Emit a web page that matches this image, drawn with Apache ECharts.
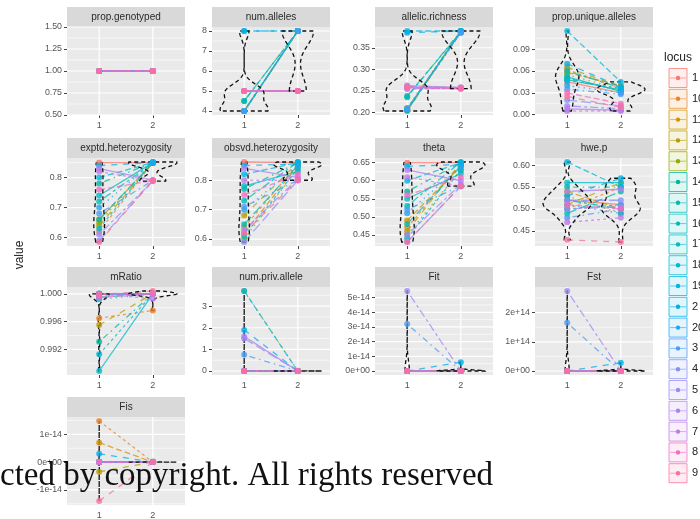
<!DOCTYPE html>
<html><head><meta charset="utf-8">
<script src="https://cdn.jsdelivr.net/npm/echarts@6/dist/echarts.min.js"></script>
<style>html,body{margin:0;padding:0;background:#fff;}#c{width:700px;height:519px;}</style>
</head><body><div id="c"></div>
<script>
// ---------------- data ----------------
const loci = ['1','10','11','12','13','14','15','16','17','18','19','2','20','3','4','5','6','7','8','9'];
const lociColors = ['#F8766D','#E8852A','#D39200','#B79F00','#93AA00','#00B6A0','#00B9B0','#00BABC','#00BAC8','#00B8D4','#00B5DE','#00AEE8','#1FA6F0','#4A9CF5','#8390FA','#9E88F8','#B07FF0','#BF79E8','#F26CC0','#FB6F9E'];
const groupLabels = ['1','2'];
const metrics = ['prop.genotyped','num.alleles','allelic.richness','prop.unique.alleles','exptd.heterozygosity','obsvd.heterozygosity','theta','hwe.p','mRatio','num.priv.allele','Fit','Fst','Fis'];

const propGenotyped1 = [1,1,1,1,1,1,1,1,1,1,1,1,1,1,1,1,1,1,1,1];
const propGenotyped2 = [1,1,1,1,1,1,1,1,1,1,1,1,1,1,1,1,1,1,1,1];
const numAlleles1 = [5,4,4,4,4,4.5,4.5,4,4,4,8,8,4,4,5,5,5,5,5,5];
const numAlleles2 = [5,8,8,8,8,8,8,8,8,8,8,8,8,8,5,5,5,5,5,5];
const allelicRichness1 = [0.258,0.205,0.207,0.203,0.21,0.235,0.238,0.204,0.206,0.209,0.389,0.385,0.206,0.208,0.26,0.256,0.262,0.254,0.257,0.259];
const allelicRichness2 = [0.256,0.385,0.389,0.387,0.388,0.389,0.386,0.389,0.388,0.387,0.389,0.389,0.385,0.386,0.257,0.255,0.258,0.256,0.255,0.257];
const propUniqueAlleles1 = [0.045,0.062,0.058,0.065,0.055,0.05,0.048,0.06,0.052,0.047,0.115,0.07,0.04,0.035,0.02,0.012,0.008,0.005,0.03,0.025];
const propUniqueAlleles2 = [0.03,0.036,0.04,0.038,0.035,0.033,0.034,0.037,0.032,0.036,0.045,0.038,0.03,0.028,0.012,0.008,0.006,0.005,0.015,0.01];
const exptdHet1 = [0.85,0.62,0.66,0.64,0.65,0.78,0.66,0.72,0.74,0.63,0.80,0.84,0.70,0.68,0.59,0.61,0.83,0.82,0.76,0.585];
const exptdHet2 = [0.85,0.85,0.848,0.85,0.852,0.85,0.85,0.849,0.85,0.851,0.85,0.85,0.85,0.79,0.79,0.788,0.792,0.79,0.79,0.79];
const obsvdHet1 = [0.862,0.64,0.62,0.68,0.60,0.77,0.65,0.73,0.78,0.61,0.82,0.85,0.70,0.71,0.59,0.63,0.84,0.80,0.75,0.62];
const obsvdHet2 = [0.86,0.855,0.85,0.86,0.84,0.86,0.85,0.862,0.83,0.84,0.86,0.855,0.85,0.80,0.80,0.805,0.81,0.80,0.82,0.80];
const theta1 = [0.65,0.47,0.49,0.46,0.45,0.57,0.48,0.53,0.55,0.44,0.60,0.64,0.51,0.52,0.43,0.45,0.63,0.61,0.56,0.43];
const theta2 = [0.65,0.645,0.64,0.65,0.63,0.65,0.64,0.652,0.62,0.63,0.65,0.645,0.64,0.585,0.585,0.59,0.60,0.585,0.61,0.585];
const hweP1 = [0.52,0.50,0.54,0.51,0.53,0.55,0.49,0.52,0.56,0.50,0.607,0.53,0.51,0.48,0.52,0.50,0.54,0.47,0.51,0.43];
const hweP2 = [0.51,0.55,0.50,0.56,0.49,0.55,0.54,0.50,0.56,0.51,0.55,0.57,0.49,0.50,0.52,0.505,0.545,0.48,0.50,0.425];
const mRatio1 = [1.0,0.9965,1.0,0.9955,1.0,0.9931,0.9995,1.0,0.9889,0.9913,1.0,1.0,0.9992,1.0,1.0,0.9998,1.0,1.0,0.9995,0.9999];
const mRatio2 = [1.0,0.9976,1.0,1.0,1.0,1.0,1.0,1.0,1.0,1.0,1.0,1.0,1.0,1.0,1.0,1.0,1.0,0.9993,1.0,1.0004];
const numPrivAllele1 = [0,0,0,0,3.7,0,0,0,0,0,3.7,1.9,0,0.75,1.5,0,1.6,0,0,0];
const numPrivAllele2 = [0,0,0,0,0,0,0,0,0,0,0,0,0.01,0,0,0,0,0,0,0];
const fit1 = [0,0,0,0,0,0,0,0,0,0,0,0,0,3.2e-14,0,5.45e-14,0,0,0,0];
const fit2 = [0,0,0,0,0,0,0,0,0,0,0,0.6e-14,0,0,0,0,0,0,0,0];
const fst1 = [0,0,0,0,0,0,0,0,0,0,0,0,0,1.65e14,0,2.74e14,0,0,0,0];
const fst2 = [0,0,0,0,0,0,0,0,0,0,0,0.28e14,0,0,0,0,0,0,0,0];
const fis1 = [0,1.48e-14,0.7e-14,-0.35e-14,0,0,0,0,0,0,0,0.3e-14,0,0,0,0,0,0,0,-1.4e-14];
const fis2 = [0,0,0,0,0,0,0,0,0,0,0,0,0.02e-14,0,0,0,0,0,0,0];

const ticksPropGenotyped = [0.5,0.75,1,1.25,1.5];  const labelsPropGenotyped = ['0.50','0.75','1.00','1.25','1.50'];
const ticksNumAlleles = [4,5,6,7,8];               const labelsNumAlleles = ['4','5','6','7','8'];
const ticksAllelicRichness = [0.2,0.25,0.3,0.35];  const labelsAllelicRichness = ['0.20','0.25','0.30','0.35'];
const ticksPropUnique = [0,0.03,0.06,0.09];        const labelsPropUnique = ['0.00','0.03','0.06','0.09'];
const ticksExptd = [0.6,0.7,0.8];                  const labelsExptd = ['0.6','0.7','0.8'];
const ticksObsvd = [0.6,0.7,0.8];                  const labelsObsvd = ['0.6','0.7','0.8'];
const ticksTheta = [0.45,0.5,0.55,0.6,0.65];       const labelsTheta = ['0.45','0.50','0.55','0.60','0.65'];
const ticksHwe = [0.45,0.5,0.55,0.6];              const labelsHwe = ['0.45','0.50','0.55','0.60'];
const ticksMRatio = [0.992,0.996,1.0];             const labelsMRatio = ['0.992','0.996','1.000'];
const ticksNumPriv = [0,1,2,3];                    const labelsNumPriv = ['0','1','2','3'];
const ticksFit = [0,1e-14,2e-14,3e-14,4e-14,5e-14]; const labelsFit = ['0e+00','1e-14','2e-14','3e-14','4e-14','5e-14'];
const ticksFst = [0,1e14,2e14];                    const labelsFst = ['0e+00','1e+14','2e+14'];
const ticksFis = [-1e-14,0,1e-14];                 const labelsFis = ['-1e-14','0e+00','1e-14'];

// ---------------- build ----------------
const panels = [
  [propGenotyped1, propGenotyped2, ticksPropGenotyped, labelsPropGenotyped],
  [numAlleles1, numAlleles2, ticksNumAlleles, labelsNumAlleles],
  [allelicRichness1, allelicRichness2, ticksAllelicRichness, labelsAllelicRichness],
  [propUniqueAlleles1, propUniqueAlleles2, ticksPropUnique, labelsPropUnique],
  [exptdHet1, exptdHet2, ticksExptd, labelsExptd],
  [obsvdHet1, obsvdHet2, ticksObsvd, labelsObsvd],
  [theta1, theta2, ticksTheta, labelsTheta],
  [hweP1, hweP2, ticksHwe, labelsHwe],
  [mRatio1, mRatio2, ticksMRatio, labelsMRatio],
  [numPrivAllele1, numPrivAllele2, ticksNumPriv, labelsNumPriv],
  [fit1, fit2, ticksFit, labelsFit],
  [fst1, fst2, ticksFst, labelsFst],
  [fis1, fis2, ticksFis, labelsFis]
].map((a, i) => ({name: metrics[i], g1: a[0], g2: a[1], ticks: a[2], labels: a[3]}));

const FONT = '"Liberation Sans", Arial, sans-serif';
const colLeft = [67, 212, 375, 535], rowTop = [27, 158, 287, 417];
const PW = 118, PH = 88, STRIP = 20;
const dashes = [[], [3,3], [6,3], [6,6], [1.5,4], [1.5,4,6,4], [10,4], [3,3,8,3]];

function q7(s, p) { const h = (s.length - 1) * p, l = Math.floor(h); return s[l] + (h - l) * (s[Math.min(l + 1, s.length - 1)] - s[l]); }
function bwNrd0(x) {
  const n = x.length, m = x.reduce((a, b) => a + b, 0) / n;
  const sd = Math.sqrt(x.reduce((a, b) => a + (b - m) * (b - m), 0) / (n - 1));
  const s = [...x].sort((a, b) => a - b);
  let lo = Math.min(sd, (q7(s, 0.75) - q7(s, 0.25)) / 1.34);
  if (!(lo > 0)) lo = sd > 0 ? sd : (Math.abs(x[0]) > 0 ? Math.abs(x[0]) : 1);
  return 0.9 * lo * Math.pow(n, -0.2);
}
function density(x, M) {
  const bw = bwNrd0(x), lo = Math.min(...x), hi = Math.max(...x), out = [];
  for (let i = 0; i < M; i++) {
    const y = lo + (hi - lo) * i / (M - 1);
    let d = 0;
    for (const xi of x) { const z = (y - xi) / bw; d += Math.exp(-0.5 * z * z); }
    out.push([y, d / (x.length * bw * Math.sqrt(2 * Math.PI))]);
  }
  return out;
}

const grid = [], xAxis = [], yAxis = [], series = [], graphics = [];
panels.forEach((p, i) => {
  const col = i % 4, row = Math.floor(i / 4);
  const left = colLeft[col], top = rowTop[row];
  const all = p.g1.concat(p.g2);
  let lo = Math.min(...all), hi = Math.max(...all);
  const constant = hi - lo === 0;
  if (constant) { lo -= 0.5; hi += 0.5; } else { const r = hi - lo; lo -= 0.05 * r; hi += 0.05 * r; }
  const tol = (hi - lo) * 1e-6;

  grid.push({left, top, width: PW, height: PH, show: true, backgroundColor: '#EAEAEA', borderWidth: 0, containLabel: false, outerBoundsMode: 'none'});
  xAxis.push({type: 'value', gridIndex: i, min: 0.4, max: 2.6,
    axisLine: {show: false}, splitLine: {show: false},
    axisTick: {show: true, customValues: [1, 2], length: 3, lineStyle: {color: '#444', width: 1}},
    axisLabel: {customValues: [1, 2], formatter: v => groupLabels[Math.round(v) - 1], fontSize: 9, color: '#555', margin: 6, fontFamily: FONT}});
  yAxis.push({type: 'value', gridIndex: i, min: lo, max: hi, scale: true,
    axisLine: {show: false}, splitLine: {show: false},
    axisTick: {show: true, customValues: p.ticks, length: 3, lineStyle: {color: '#444', width: 1}},
    axisLabel: {customValues: p.ticks, fontSize: 8.8, color: '#555', margin: 5, fontFamily: FONT,
      formatter: v => { const k = p.ticks.findIndex(t => Math.abs(t - v) <= tol); return k >= 0 ? p.labels[k] : ''; }}});

  // grid lines
  const gl = [];
  p.ticks.forEach(t => gl.push([t, 0]));
  const step = p.ticks[1] - p.ticks[0];
  for (let k = -1; k < p.ticks.length; k++) { const m = p.ticks[0] + (k + 0.5) * step; if (m > lo && m < hi) gl.push([m, 1]); }
  [1, 2].forEach(g => gl.push([g, 2]));
  series.push({type: 'custom', xAxisIndex: i, yAxisIndex: i, z: 1, silent: true, data: gl,
    renderItem: (params, api) => {
      const v = api.value(0), kind = api.value(1);
      const a = kind === 2 ? api.coord([v, lo]) : api.coord([0.4, v]);
      const b = kind === 2 ? api.coord([v, hi]) : api.coord([2.6, v]);
      return {type: 'line', shape: {x1: a[0], y1: a[1], x2: b[0], y2: b[1]}, style: {stroke: '#FFFFFF', lineWidth: kind === 1 ? 0.6 : 1.2}};
    }});

  // connecting lines per locus
  series.push({type: 'custom', xAxisIndex: i, yAxisIndex: i, z: 3, silent: true,
    data: loci.map((l, k) => [p.g1[k], p.g2[k], k]),
    renderItem: (params, api) => {
      const k = api.value(2);
      const a = api.coord([1, api.value(0)]), b = api.coord([2, api.value(1)]);
      return {type: 'line', shape: {x1: a[0], y1: a[1], x2: b[0], y2: b[1]},
        style: {stroke: lociColors[k], lineWidth: 1.3, opacity: 0.75, lineDash: dashes[k % dashes.length]}};
    }});

  // violins
  if (!constant) {
    const profs = [density(p.g1, 128), density(p.g2, 128)];
    const maxD = Math.max(...profs[0].map(d => d[1]), ...profs[1].map(d => d[1]));
    series.push({type: 'custom', xAxisIndex: i, yAxisIndex: i, z: 4, silent: true,
      data: [[1, 0], [2, 1]],
      renderItem: (params, api) => {
        const gx = api.value(0), prof = profs[api.value(1)];
        const pts = [];
        prof.forEach(d => pts.push(api.coord([gx - 0.45 * d[1] / maxD, d[0]])));
        for (let j = prof.length - 1; j >= 0; j--) pts.push(api.coord([gx + 0.45 * prof[j][1] / maxD, prof[j][0]]));
        return {type: 'polygon', shape: {points: pts}, style: {fill: 'none', stroke: '#111111', lineWidth: 1.3, lineDash: [4, 3]}};
      }});
  }

  // points
  const pts = [];
  loci.forEach((l, k) => { pts.push([1, p.g1[k], k]); pts.push([2, p.g2[k], k]); });
  series.push({type: 'scatter', xAxisIndex: i, yAxisIndex: i, z: 5, silent: true, symbolSize: 6,
    encode: {x: 0, y: 1}, data: pts,
    itemStyle: {color: prm => lociColors[prm.data[2]], opacity: 0.8}});

  // strip
  graphics.push({type: 'rect', silent: true, shape: {x: left, y: top - STRIP, width: PW, height: STRIP}, style: {fill: '#D9D9D9'}});
  graphics.push({type: 'text', silent: true, x: left + PW / 2, y: top - STRIP / 2,
    style: {text: p.name, fill: '#2A2A2A', font: '10px ' + FONT, textAlign: 'center', textVerticalAlign: 'middle'}});
});

// y title
graphics.push({type: 'text', silent: true, x: 20, y: 255, rotation: Math.PI / 2,
  style: {text: 'value', fill: '#222', font: '12px ' + FONT, textAlign: 'center', textVerticalAlign: 'middle'}});

// legend
graphics.push({type: 'text', silent: true, x: 664, y: 58,
  style: {text: 'locus', fill: '#222', font: '12px ' + FONT, textAlign: 'left', textVerticalAlign: 'middle'}});
loci.forEach((l, k) => {
  const cy = 78 + k * 20.8, c = lociColors[k];
  graphics.push({type: 'rect', silent: true, shape: {x: 669, y: cy - 9.5, width: 18, height: 19},
    style: {fill: c, opacity: 0.12}});
  graphics.push({type: 'rect', silent: true, shape: {x: 669, y: cy - 9.5, width: 18, height: 19},
    style: {fill: 'none', stroke: c, lineWidth: 1, opacity: 0.75}});
  graphics.push({type: 'line', silent: true, shape: {x1: 670, y1: cy, x2: 686, y2: cy},
    style: {stroke: c, lineWidth: 1, opacity: 0.6}});
  graphics.push({type: 'circle', silent: true, shape: {cx: 678, cy: cy, r: 2.2}, style: {fill: c}});
  graphics.push({type: 'text', silent: true, x: 692, y: cy,
    style: {text: l, fill: '#222', font: '11px ' + FONT, textAlign: 'left', textVerticalAlign: 'middle'}});
});

// watermark over the chart
graphics.push({type: 'text', silent: true, z: 100, x: 0, y: 476,
  style: {text: 'cted by copyright. All rights reserved', fill: '#111', font: '33px "Liberation Serif", "Times New Roman", serif', textAlign: 'left', textVerticalAlign: 'middle'}});

const chart = echarts.init(document.getElementById('c'), null, {renderer: 'canvas'});
chart.setOption({animation: false, backgroundColor: '#FFFFFF', grid, xAxis, yAxis, series, graphic: {elements: graphics}});
</script></body></html>
